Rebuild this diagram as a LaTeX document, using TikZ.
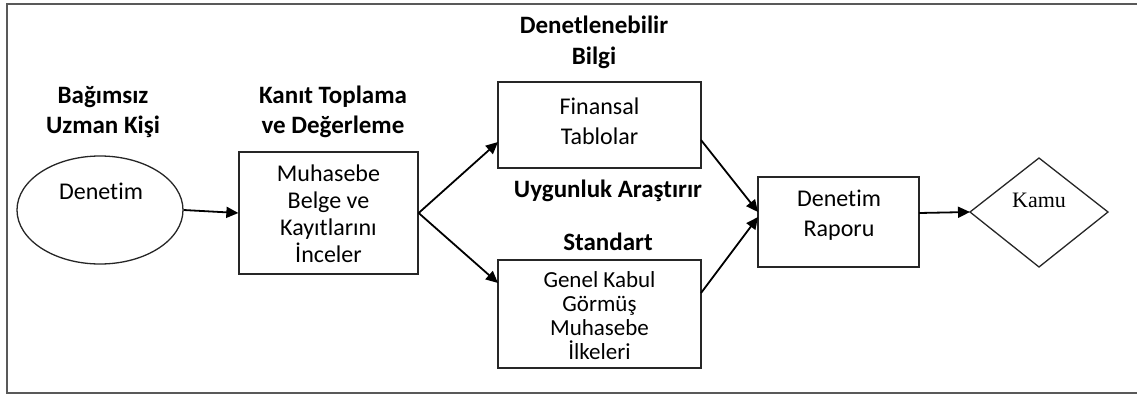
\documentclass[tikz,border=0pt]{standalone}
\usepackage{fontspec}
\setmainfont{Carlito}[Ligatures=NoCommon]
\newfontfamily\kamufont{Liberation Serif}
\usetikzlibrary{arrows.meta,shapes.geometric}
\begin{document}
\begin{tikzpicture}[x=1pt,y=-1pt,
  frameline/.style={draw=black!65,line width=1.5pt},
  boxstyle/.style={draw=black!85,line width=1.3pt,rectangle,inner sep=0pt},
  bodytext/.style={align=center,font=\fontsize{24}{27}\selectfont,inner sep=0pt},
  titletext/.style={align=center,font=\fontsize{25}{30}\selectfont\bfseries,inner sep=0pt},
  arr/.style={draw=black,line width=1.8pt,-{Triangle[length=12pt,width=11pt]}}]
\useasboundingbox (0,0) rectangle (1137,394);
% frame
\coordinate (f1) at (1137,4);
\coordinate (f2) at (7,4);
\coordinate (f3) at (7,393);
\coordinate (f4) at (1137,393);
\draw[frameline] (f1) -- (f2) -- (f3) -- (f4);
% titles
\node[titletext] (t1) at (103,112) {Bağımsız\\Uzman Kişi};
\node[titletext] (t2) at (333,112) {Kanıt Toplama\\ve Değerleme};
\node[titletext,font=\fontsize{25}{31}\selectfont\bfseries] (t3) at (594,42) {Denetlenebilir\\Bilgi};
\node[titletext] (t4) at (608,191) {Uygunluk Araştırır};
\node[titletext] (t5) at (608,242) {Standart};
% ellipse
\node[ellipse,draw=black!85,line width=1.3pt,minimum width=166pt,minimum height=108pt,inner sep=0pt] (ell) at (100,210) {};
\node[bodytext] (ellt) at (101,191) {Denetim};
% box1
\node[boxstyle,minimum width=179pt,minimum height=122pt] (b1) at (328.5,213) {};
\node[bodytext] (b1t) at (328.5,214) {Muhasebe\\Belge ve\\Kayıtlarını\\İnceler};
% box2
\node[boxstyle,minimum width=203pt,minimum height=86pt] (fin) at (599.5,125) {};
\node[bodytext,font=\fontsize{24}{30}\selectfont] (fint) at (599.5,121) {Finansal\\Tablolar};
% box3
\node[boxstyle,minimum width=203pt,minimum height=108pt] (gk) at (599.5,314) {};
\node[bodytext,font=\fontsize{23}{24}\selectfont] (gkt) at (599.5,316) {Genel Kabul\\Görmüş\\Muhasebe\\İlkeleri};
% box4
\node[boxstyle,minimum width=161pt,minimum height=90pt] (rap) at (838.5,222) {};
\node[bodytext,font=\fontsize{24}{30}\selectfont] (rapt) at (839,215) {Denetim\\Raporu};
% diamond
\coordinate (dl) at (970,212);
\coordinate (dt) at (1039,158);
\coordinate (dr) at (1108,212);
\coordinate (db) at (1039,267);
\draw[draw=black!85,line width=1.3pt] (dl) -- (dt) -- (dr) -- (db) -- cycle;
\node[font=\fontsize{22}{24}\selectfont\kamufont,inner sep=0pt] (kamu) at (1039,200) {Kamu};
% connectors
\coordinate (finin) at (498,142);
\coordinate (gkin) at (498,283);
\coordinate (finout) at (701,140);
\coordinate (gkout) at (701,293);
\coordinate (rapin1) at (758,212);
\coordinate (rapin2) at (758,217);
\coordinate (rapout) at (919,213);
\draw[arr] (ell.east) -- (b1.west);
\draw[arr] (b1.east) -- (finin);
\draw[arr] (b1.east) -- (gkin);
\draw[arr] (finout) -- (rapin1);
\draw[arr] (gkout) -- (rapin2);
\draw[arr] (rapout) -- (dl);
\end{tikzpicture}
\end{document}
